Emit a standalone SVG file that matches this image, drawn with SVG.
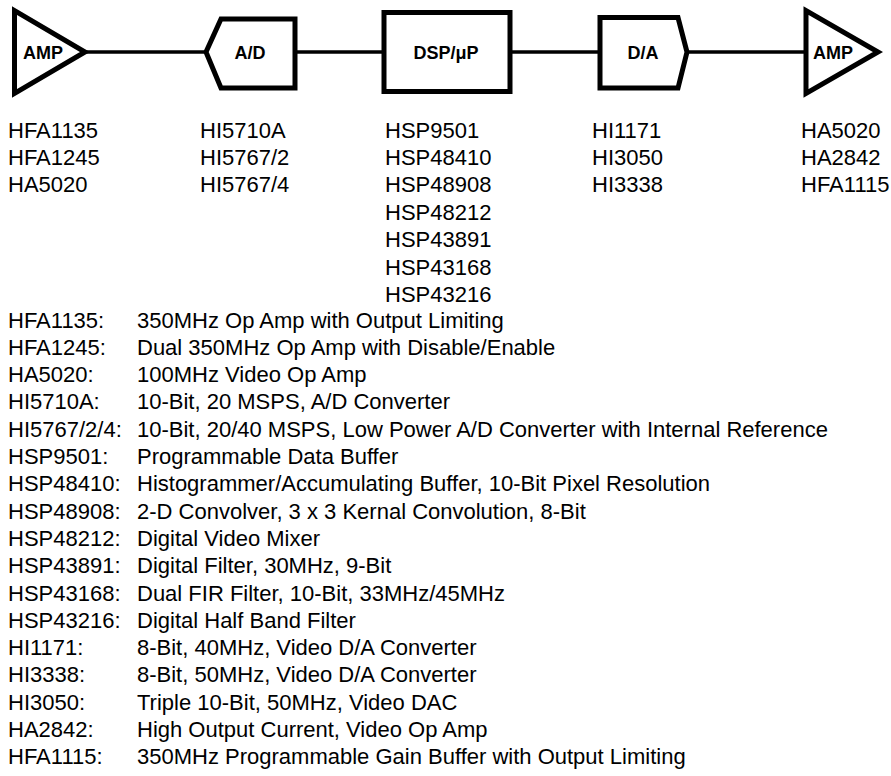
<svg xmlns="http://www.w3.org/2000/svg" width="891" height="776" viewBox="0 0 891 776">
<style>
.shape{fill:#fff;stroke:#000;stroke-width:5;stroke-linejoin:miter;stroke-miterlimit:10}
.conn{stroke:#000;stroke-width:3.5;fill:none}
.lbl{font-family:"Liberation Sans",Arial,sans-serif;font-weight:bold;font-size:18px;fill:#000}
.t{font-family:"Liberation Sans",Arial,sans-serif;font-size:22px;fill:#000}
</style>
<rect width="891" height="776" fill="#fff"/>
<g id="connectors">
<line class="conn" x1="86" y1="52" x2="206" y2="52"/>
<line class="conn" x1="295" y1="52" x2="384" y2="52"/>
<line class="conn" x1="510" y1="52" x2="600" y2="52"/>
<line class="conn" x1="687" y1="52" x2="806" y2="52"/>
</g>
<g id="amp-in">
<polygon class="shape" points="14.5,10.5 14.5,93.5 85,52"/>
<text class="lbl" x="23" y="58.5">AMP</text>
</g>
<g id="adc">
<polygon class="shape" points="206,52 221,19 295,19 295,88 221,88"/>
<text class="lbl" x="250" y="58.5" text-anchor="middle">A/D</text>
</g>
<g id="dsp">
<rect class="shape" x="384" y="12.5" width="126" height="79"/>
<text class="lbl" x="446" y="58.5" text-anchor="middle">DSP/μP</text>
</g>
<g id="dac">
<polygon class="shape" points="600,17.5 678,17.5 687,52 678,88 600,88"/>
<text class="lbl" x="643" y="58.5" text-anchor="middle">D/A</text>
</g>
<g id="amp-out">
<polygon class="shape" points="806,10.5 806,93.5 878,52"/>
<text class="lbl" x="813" y="58.5">AMP</text>
</g>
<g id="parts" class="t">
<text x="8" y="137.5">HFA1135</text>
<text x="8" y="164.9">HFA1245</text>
<text x="8" y="192.3">HA5020</text>
<text x="200" y="137.5">HI5710A</text>
<text x="200" y="164.9">HI5767/2</text>
<text x="200" y="192.3">HI5767/4</text>
<text x="385" y="137.5">HSP9501</text>
<text x="385" y="164.9">HSP48410</text>
<text x="385" y="192.3">HSP48908</text>
<text x="385" y="219.7">HSP48212</text>
<text x="385" y="247.1">HSP43891</text>
<text x="385" y="274.5">HSP43168</text>
<text x="385" y="301.9">HSP43216</text>
<text x="592" y="137.5">HI1171</text>
<text x="592" y="164.9">HI3050</text>
<text x="592" y="192.3">HI3338</text>
<text x="801" y="137.5">HA5020</text>
<text x="801" y="164.9">HA2842</text>
<text x="801" y="192.3">HFA1115</text>
</g>
<g id="legend" class="t">
<text x="8" y="327.5">HFA1135:</text><text x="137" y="327.5">350MHz Op Amp with Output Limiting</text>
<text x="8" y="354.8">HFA1245:</text><text x="137" y="354.8">Dual 350MHz Op Amp with Disable/Enable</text>
<text x="8" y="382.1">HA5020:</text><text x="137" y="382.1">100MHz Video Op Amp</text>
<text x="8" y="409.4">HI5710A:</text><text x="137" y="409.4">10-Bit, 20 MSPS, A/D Converter</text>
<text x="8" y="436.7">HI5767/2/4:</text><text x="137" y="436.7">10-Bit, 20/40 MSPS, Low Power A/D Converter with Internal Reference</text>
<text x="8" y="464">HSP9501:</text><text x="137" y="464">Programmable Data Buffer</text>
<text x="8" y="491.3">HSP48410:</text><text x="137" y="491.3">Histogrammer/Accumulating Buffer, 10-Bit Pixel Resolution</text>
<text x="8" y="518.6">HSP48908:</text><text x="137" y="518.6">2-D Convolver, 3 x 3 Kernal Convolution, 8-Bit</text>
<text x="8" y="545.9">HSP48212:</text><text x="137" y="545.9">Digital Video Mixer</text>
<text x="8" y="573.2">HSP43891:</text><text x="137" y="573.2">Digital Filter, 30MHz, 9-Bit</text>
<text x="8" y="600.5">HSP43168:</text><text x="137" y="600.5">Dual FIR Filter, 10-Bit, 33MHz/45MHz</text>
<text x="8" y="627.8">HSP43216:</text><text x="137" y="627.8">Digital Half Band Filter</text>
<text x="8" y="655.1">HI1171:</text><text x="137" y="655.1">8-Bit, 40MHz, Video D/A Converter</text>
<text x="8" y="682.4">HI3338:</text><text x="137" y="682.4">8-Bit, 50MHz, Video D/A Converter</text>
<text x="8" y="709.7">HI3050:</text><text x="137" y="709.7">Triple 10-Bit, 50MHz, Video DAC</text>
<text x="8" y="737">HA2842:</text><text x="137" y="737">High Output Current, Video Op Amp</text>
<text x="8" y="764.3">HFA1115:</text><text x="137" y="764.3">350MHz Programmable Gain Buffer with Output Limiting</text>
</g>
</svg>
